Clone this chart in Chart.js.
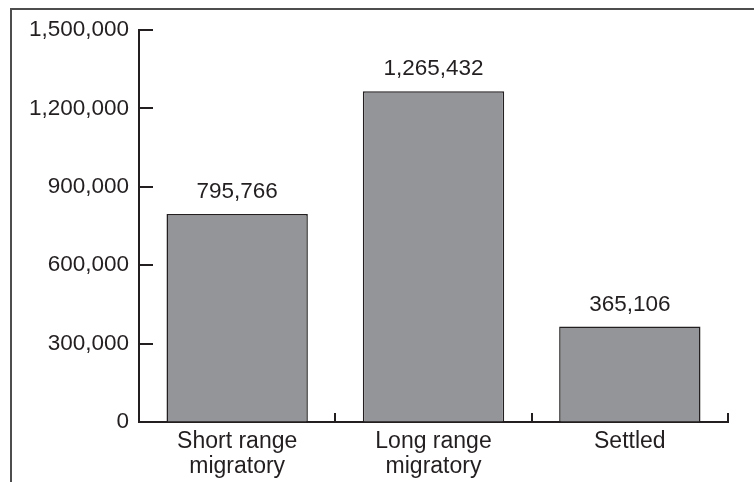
<!DOCTYPE html>
<html>
<head>
<meta charset="utf-8">
<script src="https://cdn.jsdelivr.net/npm/chart.js@4"></script>
<style>
    body { margin: 0; background: #fff; }
    #wrap { width: 754px; height: 482px; position: relative; }
</style>
</head>
<body>
<div id="wrap"><canvas id="barChart"></canvas></div>
<script>
const categories = [['Short range', 'migratory'], ['Long range', 'migratory'], ['Settled']];
const counts = [795766, 1265432, 365106];
const yTicks = [0, 300000, 600000, 900000, 1200000, 1500000];

const ink = '#231f20';
const fontFamily = '"Liberation Sans", Arial, Helvetica, sans-serif';

// frame, inward tick marks and value labels
const decor = {
    id: 'decor',
    afterDraw(chart) {
        const ctx = chart.ctx;
        const x = chart.scales.x, y = chart.scales.y;
        const area = chart.chartArea;
        ctx.save();
        ctx.strokeStyle = '#4d4d4d';
        ctx.lineWidth = 2;
        ctx.beginPath();
        ctx.moveTo(11, chart.height);
        ctx.lineTo(11, 9);
        ctx.lineTo(chart.width, 9);
        ctx.stroke();

        ctx.strokeStyle = ink;
        ctx.lineWidth = 2;
        ctx.beginPath();
        yTicks.forEach(v => {
            if (v === 0) return;
            const py = Math.round(y.getPixelForValue(v));
            ctx.moveTo(area.left, py);
            ctx.lineTo(area.left + 14, py);
        });
        const w = (area.right - area.left) / categories.length;
        for (let i = 1; i <= categories.length; i++) {
            const px = Math.round(area.left + i * w);
            ctx.moveTo(px, area.bottom);
            ctx.lineTo(px, area.bottom - 9);
        }
        ctx.stroke();

        ctx.fillStyle = ink;
        ctx.font = '22.5px ' + fontFamily;
        ctx.textAlign = 'center';
        ctx.textBaseline = 'alphabetic';
        chart.getDatasetMeta(0).data.forEach((bar, i) => {
            ctx.fillText(counts[i].toLocaleString('en-US'), bar.x, bar.y - 16);
        });
        ctx.restore();
    }
};

new Chart(document.getElementById('barChart'), {
    type: 'bar',
    data: {
        labels: categories,
        datasets: [{
            data: counts,
            backgroundColor: '#939598',
            borderColor: ink,
            borderWidth: 1.5,
            barPercentage: 0.72,
            categoryPercentage: 1
        }]
    },
    options: {
        responsive: true,
        maintainAspectRatio: false,
        animation: false,
        layout: { padding: { top: 30, right: 26, left: 0, bottom: 0 } },
        plugins: { legend: { display: false }, tooltip: { enabled: false } },
        scales: {
            y: {
                min: 0,
                max: 1500000,
                afterBuildTicks: s => { s.ticks = yTicks.map(v => ({ value: v })); },
                afterFit: s => { s.width = 139; },
                ticks: {
                    color: ink,
                    padding: 10,
                    font: { size: 22.5, family: fontFamily },
                    callback: v => v.toLocaleString('en-US')
                },
                grid: { drawOnChartArea: false, drawTicks: false },
                border: { display: true, color: ink, width: 2 }
            },
            x: {
                afterFit: s => { s.height = 60; },
                ticks: {
                    color: ink,
                    padding: 7,
                    maxRotation: 0,
                    font: { size: 23, family: fontFamily, lineHeight: 1.1 }
                },
                grid: { drawOnChartArea: false, drawTicks: false },
                border: { display: true, color: ink, width: 2 }
            }
        }
    },
    plugins: [decor]
});
</script>
</body>
</html>
